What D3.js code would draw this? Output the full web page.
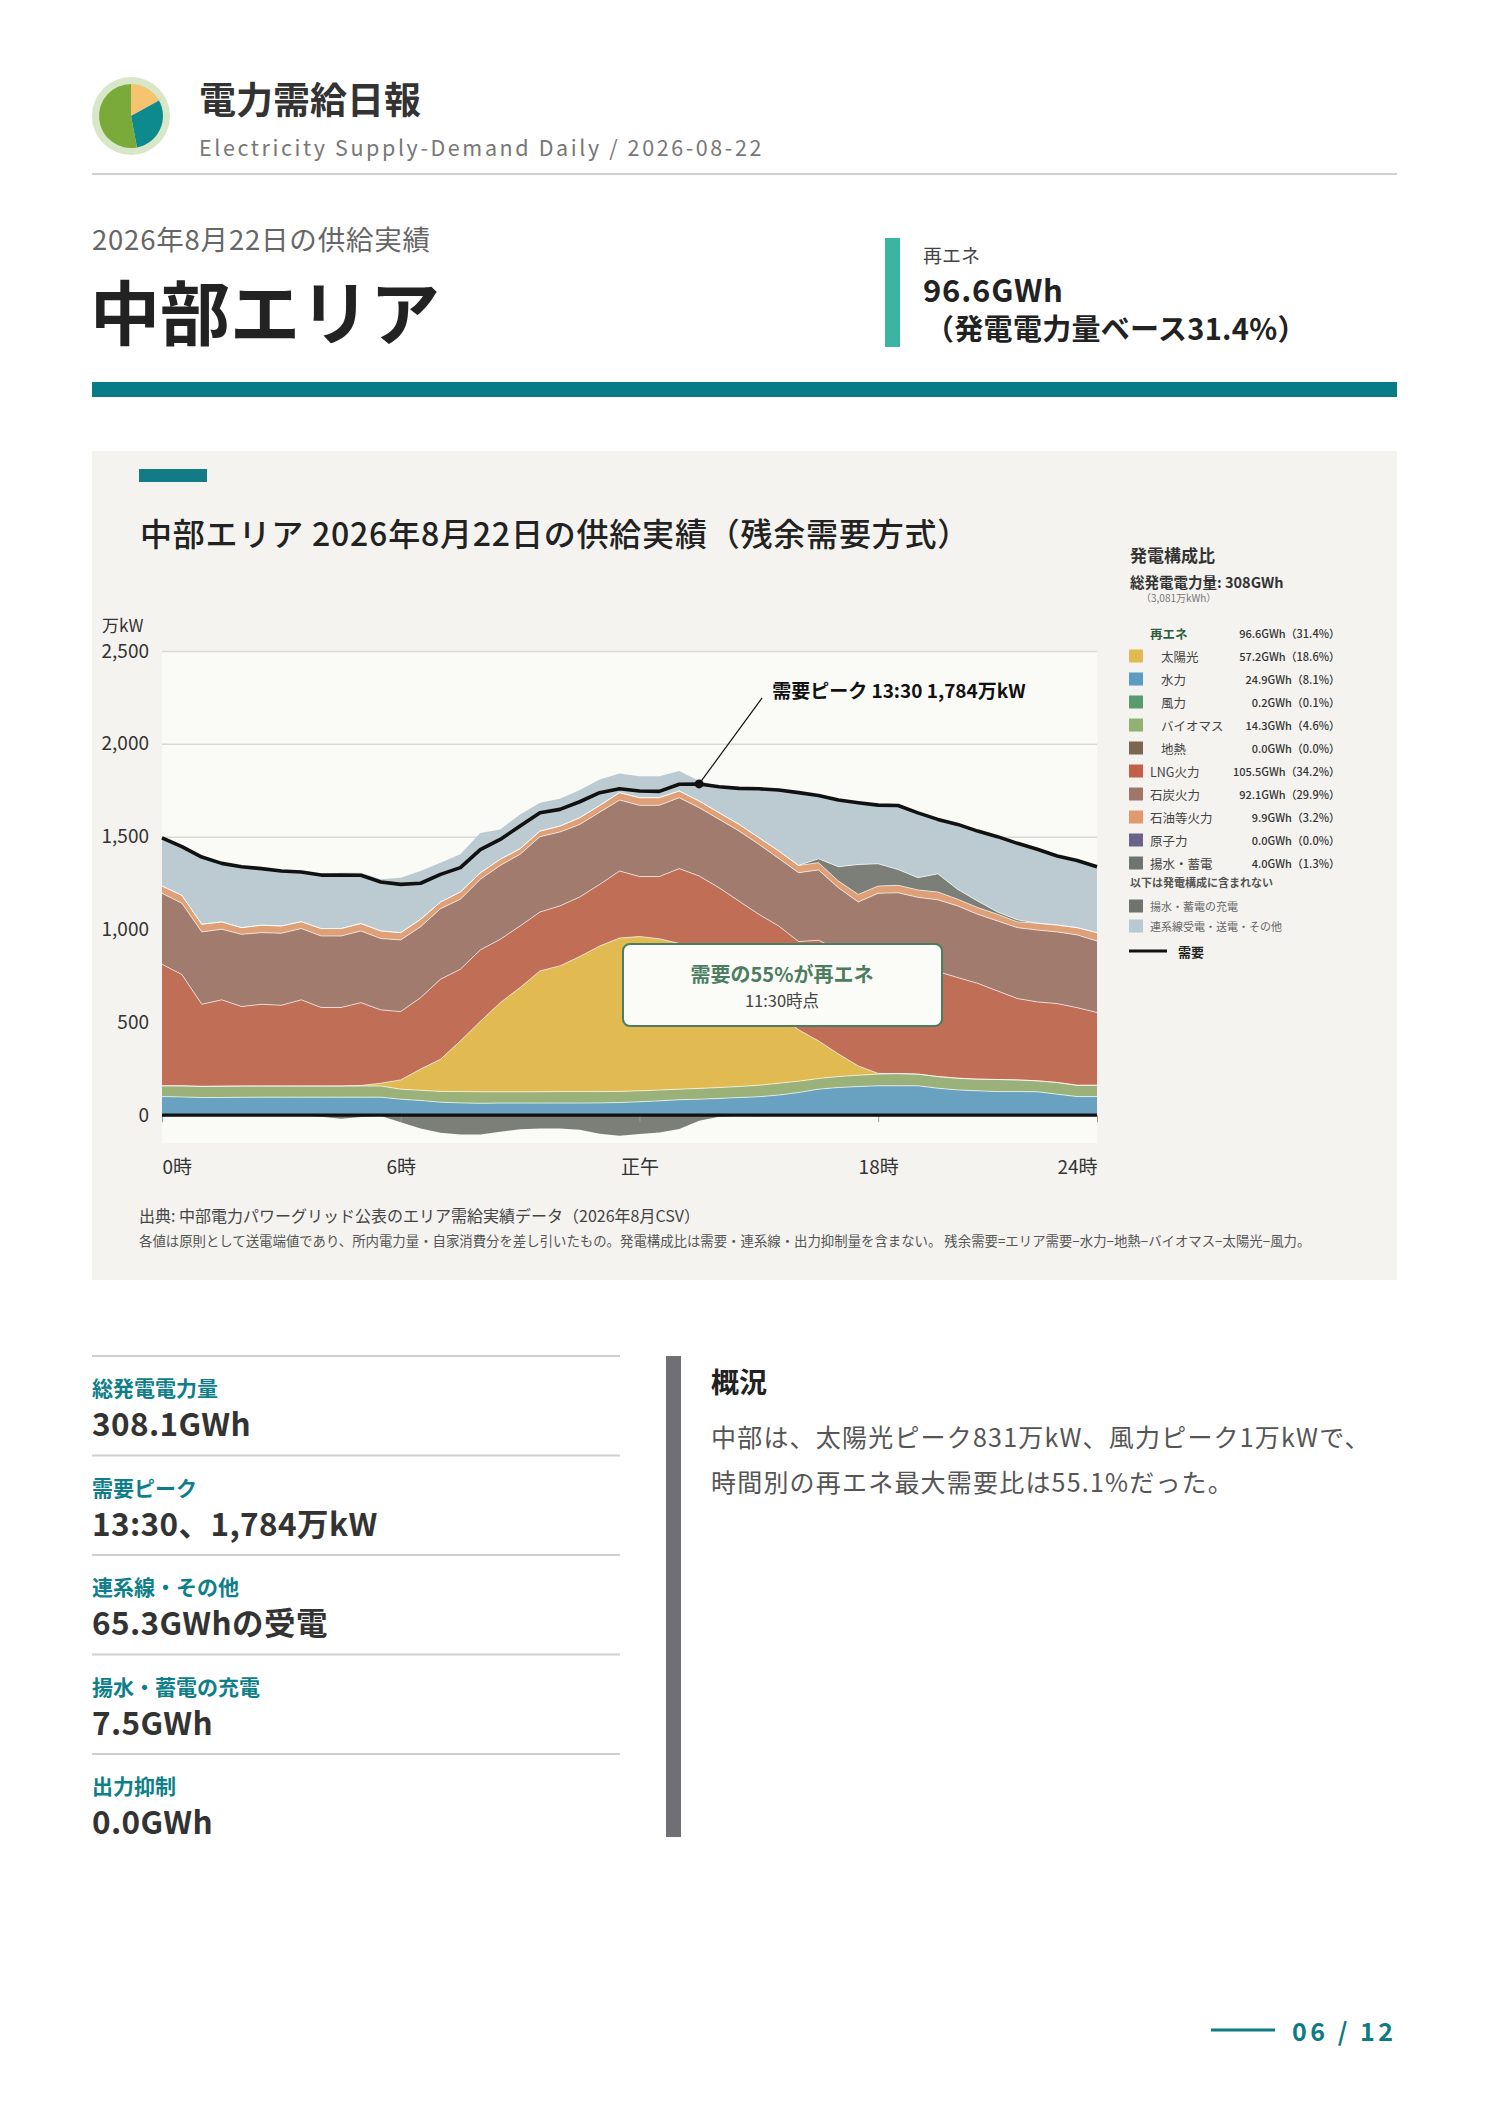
<!DOCTYPE html>
<html>
<head>
<meta charset="utf-8">
<script src="https://cdnjs.cloudflare.com/ajax/libs/d3/7.8.5/d3.min.js"></script>
<style>
body { margin: 0; background: #fff; }
text { font-family: "Noto Sans CJK JP", "Noto Sans", sans-serif; }
</style>
</head>
<body>
<svg id="page" width="1488" height="2105"></svg>
<script>
// --- data (万kW, 30分値 0:00〜23:30) ---
var hydro   = [100,98,95,95,96,97,97,97,97,97,97,97,86,79,70,66,64,65,65,65,65,65,66,68,72,77,83,86,90,95,99,108,122,140,149,154,158,158,158,145,136,131,127,127,126,113,100,100];
var biomass = [58,60,60,61,61,60,60,60,60,60,60,60,54,55,58,61,62,61,61,61,62,62,61,60,59,58,57,58,59,59,62,64,61,57,59,61,63,66,63,63,63,63,65,63,59,63,61,61];
var solar   = [0,0,0,0,0,0,0,0,0,0,3,15,50,114,173,273,379,480,561,651,677,727,784,826,831,815,785,741,681,606,509,368,277,203,122,50,4,0,0,0,0,0,0,0,0,0,0,0];
var lng     = [655,599,442,465,428,440,435,464,423,423,446,395,368,385,431,386,385,341,332,317,323,321,332,361,323,335,403,403,395,393,412,479,475,542,560,590,605,591,574,565,542,516,477,438,425,425,418,392];
var coal    = [382,384,390,380,389,386,388,384,385,385,386,384,386,382,380,377,380,398,386,406,398,391,389,382,384,384,382,368,369,378,377,364,371,379,335,293,365,383,378,387,386,372,377,382,387,386,392,385];
var oil     = [39,43,41,40,36,40,39,37,40,40,40,41,39,40,36,39,35,33,30,30,32,36,36,40,41,41,36,36,35,36,36,40,39,39,36,41,39,40,40,42,36,36,36,31,37,37,39,45];
var pumpGen = [0,0,0,0,0,0,0,0,0,0,0,0,0,0,0,0,0,0,0,0,0,0,0,0,0,0,0,0,0,0,0,0,0,21,77,161,120,85,66,98,53,35,12,11,0,0,0,0];
var tieLine = [260,262,362,315,328,305,296,268,288,300,273,278,296,260,212,203,215,161,185,153,147,149,140,103,116,116,107,108,146,193,263,328,392,341,359,333,316,345,349,293,350,377,406,412,398,372,362,355];
var pumpCharge = [0,0,0,0,0,0,0,0,-8,-20,-10,-4,-38,-72,-95,-104,-104,-90,-76,-72,-72,-78,-100,-111,-102,-93,-75,-30,-8,-3,-6,-2,0,0,0,0,0,0,0,0,0,0,0,0,0,0,0,0];
var demand  = [1494,1446,1390,1356,1338,1328,1315,1310,1293,1293,1292,1256,1243,1249,1297,1333,1430,1485,1557,1629,1647,1688,1737,1758,1746,1744,1782,1784,1769,1760,1758,1751,1737,1722,1697,1683,1670,1668,1628,1593,1566,1530,1500,1464,1432,1396,1372,1338];

var seriesKeys   = ["hydro","biomass","solar","lng","coal","oil","pump","tie"];
var seriesColors = ["#68a2c0","#9ab27a","#e1bb52","#c06e56","#a17c6e","#e0a077","#7c7f77","#bccbd1"];
var yTicks = [0,500,1000,1500,2000,2500];
var xTickIdx = [0,12,24,36,47];
var xTickLabels = ["0時","6時","正午","18時","24時"];
var peakIdx = 27;

var legendNames  = ["再エネ","太陽光","水力","風力","バイオマス","地熱","LNG火力","石炭火力","石油等火力","原子力","揚水・蓄電"];
var legendValues = ["96.6GWh（31.4%）","57.2GWh（18.6%）","24.9GWh（8.1%）","0.2GWh（0.1%）","14.3GWh（4.6%）","0.0GWh（0.0%）","105.5GWh（34.2%）","92.1GWh（29.9%）","9.9GWh（3.2%）","0.0GWh（0.0%）","4.0GWh（1.3%）"];
var legendColors = [null,"#e1bb52","#5b9cc0","#5a9a6e","#94b070","#7b6652","#c4604a","#a0766a","#e09a6e","#6b6488","#6f756e"];
var legendIndent = [0,1,1,1,1,1,0,0,0,0,0];
var extraNames  = ["揚水・蓄電の充電","連系線受電・送電・その他"];
var extraColors = ["#6f756e","#b9c9d1"];

var statLabels = ["総発電電力量","需要ピーク","連系線・その他","揚水・蓄電の充電","出力抑制"];
var statValues = ["308.1GWh","13:30、1,784万kW","65.3GWhの受電","7.5GWh","0.0GWh"];

var logoShares = [17, 30, 53];
var logoColors = ["#f6c36f","#0d8a8e","#79aa3a"];

var svg = d3.select("#page");
svg.append("rect").attr("width",1488).attr("height",2105).attr("fill","#fff");

// --- header ---
var logo = svg.append("g").attr("transform","translate(131,116)");
logo.append("circle").attr("r",39).attr("fill","#d7e7c8");
var pie = d3.pie().sort(null)(logoShares);
logo.selectAll("path").data(pie).join("path")
  .attr("d", d3.arc().innerRadius(0).outerRadius(32))
  .attr("fill", function(d,i){ return logoColors[i]; });

svg.append("text").attr("x",199).attr("y",98).attr("dominant-baseline","central")
  .attr("font-size",37).attr("font-weight",700).attr("fill","#333").text("電力需給日報");
svg.append("text").attr("x",199).attr("y",146).attr("dominant-baseline","central")
  .attr("font-size",21.5).attr("fill","#777").attr("letter-spacing",2.6)
  .text("Electricity Supply-Demand Daily / 2026-08-22");
svg.append("line").attr("x1",92).attr("x2",1397).attr("y1",174).attr("y2",174)
  .attr("stroke","#d0d0d0").attr("stroke-width",2);

svg.append("text").attr("x",92).attr("y",238).attr("dominant-baseline","central")
  .attr("font-size",27.5).attr("fill","#666").attr("letter-spacing",0.8).text("2026年8月22日の供給実績");
svg.append("text").attr("x",90).attr("y",309).attr("dominant-baseline","central")
  .attr("font-size",70).attr("font-weight",700).attr("fill","#222").text("中部エリア");

svg.append("rect").attr("x",885).attr("y",238).attr("width",15).attr("height",109).attr("fill","#3ab5a1");
svg.append("text").attr("x",923).attr("y",254).attr("dominant-baseline","central")
  .attr("font-size",19).attr("fill","#444").text("再エネ");
svg.append("text").attr("x",923).attr("y",288).attr("dominant-baseline","central")
  .attr("font-size",31).attr("font-weight",700).attr("fill","#222").attr("letter-spacing",0.8).text("96.6GWh");
svg.append("text").attr("x",925).attr("y",327).attr("dominant-baseline","central")
  .attr("font-size",29).attr("font-weight",700).attr("fill","#222").attr("letter-spacing",0.3).text("（発電電力量ベース31.4%）");

svg.append("rect").attr("x",92).attr("y",382).attr("width",1305).attr("height",15).attr("fill","#077c87");

// --- chart panel ---
svg.append("rect").attr("x",92).attr("y",451).attr("width",1305).attr("height",829).attr("fill","#f4f3ef");
svg.append("rect").attr("x",139).attr("y",469).attr("width",68).attr("height",13).attr("fill","#137b85");
svg.append("text").attr("x",140).attr("y",532).attr("dominant-baseline","central")
  .attr("font-size",32).attr("font-weight",500).attr("fill","#222").attr("letter-spacing",0.8)
  .text("中部エリア 2026年8月22日の供給実績（残余需要方式）");

var plot = {left:162, right:1097, top:651, bottom:1143};
var x = d3.scaleLinear().domain([0,47]).range([plot.left, plot.right]);
var y = d3.scaleLinear().domain([-150,2500]).range([plot.bottom, plot.top]);

svg.append("rect").attr("x",plot.left).attr("y",plot.top)
  .attr("width",plot.right-plot.left).attr("height",plot.bottom-plot.top).attr("fill","#fafaf6");

svg.append("defs").append("clipPath").attr("id","plotClip").append("rect")
  .attr("x",plot.left).attr("y",plot.top-4).attr("width",plot.right-plot.left).attr("height",plot.bottom-plot.top+4);

var yAxis = svg.append("g").attr("transform","translate("+plot.left+",0)")
  .call(d3.axisLeft(y).tickValues(yTicks).tickFormat(d3.format(",")).tickSize(-(plot.right-plot.left)).tickPadding(13));
yAxis.select(".domain").remove();
yAxis.selectAll("line").attr("stroke","#d9d9d5").attr("stroke-width",1.5);
yAxis.selectAll("text").attr("font-size",19).attr("fill","#333")
  .style("font-family","'Noto Sans CJK JP', sans-serif");

svg.append("text").attr("x",102).attr("y",624).attr("dominant-baseline","central")
  .attr("font-size",17).attr("fill","#333").text("万kW");

var rows = d3.range(demand.length).map(function(i){
  return {i:i, hydro:hydro[i], biomass:biomass[i], solar:solar[i], lng:lng[i],
          coal:coal[i], oil:oil[i], pump:pumpGen[i], tie:tieLine[i]};
});
var stacked = d3.stack().keys(seriesKeys)(rows);

var chartG = svg.append("g").attr("clip-path","url(#plotClip)");
var area = d3.area().x(function(d){ return x(d.data.i); })
  .y0(function(d){ return y(d[0]); }).y1(function(d){ return y(d[1]); });
chartG.selectAll("path.layer").data(stacked).join("path").attr("class","layer")
  .attr("d", area).attr("fill", function(d,i){ return seriesColors[i]; });

// thin separators between layers
var edge = d3.line().x(function(d){ return x(d.data.i); }).y(function(d){ return y(d[1]); });
chartG.selectAll("path.edge").data(stacked.slice(0, stacked.length-1)).join("path").attr("class","edge")
  .attr("d", edge).attr("fill","none").attr("stroke","#fff").attr("stroke-opacity",0.65).attr("stroke-width",1);

// pumping charge (below zero)
chartG.append("path").datum(pumpCharge)
  .attr("d", d3.area().x(function(d,i){ return x(i); }).y0(y(0)).y1(function(d){ return y(d); }))
  .attr("fill","#7c7f77");

// x axis ticks and labels
var xAxis = svg.append("g").attr("transform","translate(0,"+y(0)+")")
  .call(d3.axisBottom(x).tickValues(xTickIdx).tickFormat(function(d,i){ return xTickLabels[i]; }).tickSize(7));
xAxis.select(".domain").remove();
xAxis.selectAll("line").attr("stroke","#999");
xAxis.selectAll("text").attr("y",52).attr("dy","0.35em").attr("font-size",19).attr("fill","#333")
  .style("font-family","'Noto Sans CJK JP', sans-serif")
  .attr("text-anchor", function(d,i){ return i===0 ? "start" : (i===xTickIdx.length-1 ? "end" : "middle"); });

// zero line
svg.append("line").attr("x1",plot.left).attr("x2",plot.right).attr("y1",y(0)).attr("y2",y(0))
  .attr("stroke","#111").attr("stroke-width",3.2);

// demand line
svg.append("path").datum(demand)
  .attr("d", d3.line().x(function(d,i){ return x(i); }).y(function(d){ return y(d); }))
  .attr("fill","none").attr("stroke","#111").attr("stroke-width",3.6).attr("stroke-linejoin","round");

// peak annotation
var px = x(peakIdx), py = y(demand[peakIdx]);
svg.append("line").attr("x1",px).attr("y1",py).attr("x2",px+63).attr("y2",py-86)
  .attr("stroke","#111").attr("stroke-width",1.2);
svg.append("circle").attr("cx",px).attr("cy",py).attr("r",4.5).attr("fill","#111");
svg.append("text").attr("x",px+73).attr("y",py-94).attr("dominant-baseline","central")
  .attr("font-size",19).attr("font-weight",700).attr("fill","#111")
  .text("需要ピーク 13:30 " + d3.format(",")(demand[peakIdx]) + "万kW");

// callout box
svg.append("rect").attr("x",623).attr("y",944).attr("width",319).attr("height",82).attr("rx",7)
  .attr("fill","#fbfbf8").attr("stroke","#4b7d60").attr("stroke-width",2);
svg.append("text").attr("x",782).attr("y",973).attr("text-anchor","middle").attr("dominant-baseline","central")
  .attr("font-size",20).attr("font-weight",700).attr("fill","#4b7d60").text("需要の55%が再エネ");
svg.append("text").attr("x",782).attr("y",1000).attr("text-anchor","middle").attr("dominant-baseline","central")
  .attr("font-size",16.5).attr("fill","#444").text("11:30時点");

// source notes
svg.append("text").attr("x",139).attr("y",1215).attr("dominant-baseline","central")
  .attr("font-size",16).attr("fill","#444").text("出典: 中部電力パワーグリッド公表のエリア需給実績データ（2026年8月CSV）");
svg.append("text").attr("x",139).attr("y",1240).attr("dominant-baseline","central")
  .attr("font-size",13.4).attr("fill","#555")
  .text("各値は原則として送電端値であり、所内電力量・自家消費分を差し引いたもの。発電構成比は需要・連系線・出力抑制量を含まない。 残余需要=エリア需要−水力−地熱−バイオマス−太陽光−風力。");

// --- legend ---
var lg = svg.append("g");
lg.append("text").attr("x",1130).attr("y",554).attr("dominant-baseline","central")
  .attr("font-size",17).attr("font-weight",700).attr("fill","#333").text("発電構成比");
lg.append("text").attr("x",1130).attr("y",581).attr("dominant-baseline","central")
  .attr("font-size",14.5).attr("font-weight",700).attr("fill","#333").text("総発電電力量: 308GWh");
lg.append("text").attr("x",1141).attr("y",597).attr("dominant-baseline","central")
  .attr("font-size",10).attr("fill","#777").text("（3,081万kWh）");

legendNames.forEach(function(name, i){
  var ry = 633 + i*23;
  if (legendColors[i]) {
    lg.append("rect").attr("x",1129).attr("y",ry-6.5).attr("width",14).attr("height",13).attr("fill",legendColors[i]);
  }
  lg.append("text").attr("x", legendIndent[i] ? 1161 : 1150).attr("y",ry).attr("dominant-baseline","central")
    .attr("font-size",12.5).attr("font-weight", i===0 ? 700 : 400)
    .attr("fill", i===0 ? "#2e5e40" : "#444").text(name);
  lg.append("text").attr("x",1340).attr("y",ry).attr("text-anchor","end").attr("dominant-baseline","central")
    .attr("font-size",11).attr("font-weight",500).attr("fill","#333").text(legendValues[i]);
});
lg.append("text").attr("x",1130).attr("y",882).attr("dominant-baseline","central")
  .attr("font-size",11).attr("font-weight",700).attr("fill","#555").text("以下は発電構成に含まれない");
extraNames.forEach(function(name, i){
  var ry = 906 + i*20;
  lg.append("rect").attr("x",1129).attr("y",ry-6.5).attr("width",14).attr("height",13).attr("fill",extraColors[i]);
  lg.append("text").attr("x",1150).attr("y",ry).attr("dominant-baseline","central")
    .attr("font-size",11).attr("fill","#666").text(name);
});
lg.append("line").attr("x1",1129).attr("x2",1167).attr("y1",951).attr("y2",951).attr("stroke","#111").attr("stroke-width",3);
lg.append("text").attr("x",1178).attr("y",951).attr("dominant-baseline","central")
  .attr("font-size",13).attr("font-weight",700).attr("fill","#222").text("需要");

// --- stats ---
statLabels.forEach(function(lbl, i){
  var top = 1356 + i*99.5;
  svg.append("line").attr("x1",92).attr("x2",620).attr("y1",top).attr("y2",top)
    .attr("stroke","#cfcfcf").attr("stroke-width",2);
  svg.append("text").attr("x",92).attr("y",top+31).attr("dominant-baseline","central")
    .attr("font-size",21).attr("font-weight",700).attr("fill","#0e7f8a").text(lbl);
  svg.append("text").attr("x",92).attr("y",top+66).attr("dominant-baseline","central")
    .attr("font-size",31.5).attr("font-weight",700).attr("fill","#333").attr("letter-spacing",0.4).text(statValues[i]);
});

// --- summary ---
svg.append("rect").attr("x",666).attr("y",1356).attr("width",15).attr("height",481).attr("fill","#707074");
svg.append("text").attr("x",711).attr("y",1381).attr("dominant-baseline","central")
  .attr("font-size",28).attr("font-weight",700).attr("fill","#222").text("概況");
svg.append("text").attr("x",711).attr("y",1436).attr("dominant-baseline","central")
  .attr("font-size",25).attr("fill","#555").attr("letter-spacing",1.2).text("中部は、太陽光ピーク831万kW、風力ピーク1万kWで、");
svg.append("text").attr("x",711).attr("y",1481).attr("dominant-baseline","central")
  .attr("font-size",25).attr("fill","#555").attr("letter-spacing",1.2).text("時間別の再エネ最大需要比は55.1%だった。");

// --- page number ---
svg.append("line").attr("x1",1211).attr("x2",1275).attr("y1",2030).attr("y2",2030)
  .attr("stroke","#0e7a84").attr("stroke-width",3);
svg.append("text").attr("x",1292).attr("y",2030).attr("dominant-baseline","central")
  .attr("font-size",25).attr("font-weight",700).attr("fill","#0e7a84").attr("letter-spacing",3.5).text("06 / 12");
</script>
</body>
</html>
